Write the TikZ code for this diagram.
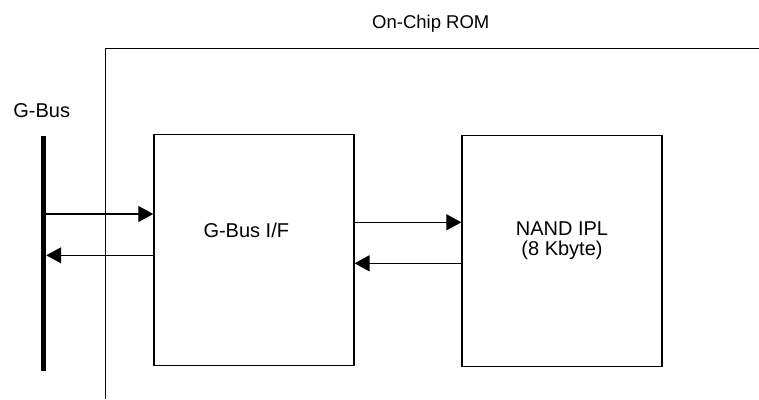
\documentclass[tikz,border=0pt]{standalone}
\usepackage{fontspec}
\setmainfont{Liberation Sans}
\usetikzlibrary{arrows.meta}
\begin{document}
\begin{tikzpicture}[x=1pt,y=-1pt,
  box/.style={draw=black,line width=1.3pt,minimum width=200pt,minimum height=231pt,inner sep=0pt},
  lbl/.style={inner sep=0pt,anchor=base,font=\fontsize{20}{20}\selectfont,align=center},
  conn/.style={line width=1.2pt,-{Triangle[length=15pt,width=16pt]}},
  framel/.style={line width=1.3pt}]
\useasboundingbox[fill=white] (0,0) rectangle (759,399);
\draw[framel] (105.7,399) -- (105.7,48.7) -- (759,48.7);
\node[lbl,font=\fontsize{18.5}{22}\selectfont] (rom) at (430.8,28.3) {On-Chip ROM};
\node[lbl] (gbus) at (41.7,117) {G-Bus};
\node[fill=black,minimum width=5pt,minimum height=234.7pt,inner sep=0pt] (bus) at (43.5,253.3) {};
\node[box] (gbif) at (253.9,250) {};
\node[box] (nand) at (562,251.3) {};
\node[lbl] (gbiftext) at (246.3,237) {G-Bus I/F};
\node[lbl] (nandtext) at (562,255.5) {NAND IPL\\(8 Kbyte)};
\coordinate (ya) at (0,214);
\coordinate (yb) at (0,255.3);
\coordinate (yc) at (0,222.3);
\coordinate (yd) at (0,263.3);
\draw[conn] (bus.east |- ya) -- (gbif.west |- ya);
\draw[conn] (gbif.west |- yb) -- (bus.east |- yb);
\draw[conn] (gbif.east |- yc) -- (nand.west |- yc);
\draw[conn] (nand.west |- yd) -- (gbif.east |- yd);
\end{tikzpicture}
\end{document}
